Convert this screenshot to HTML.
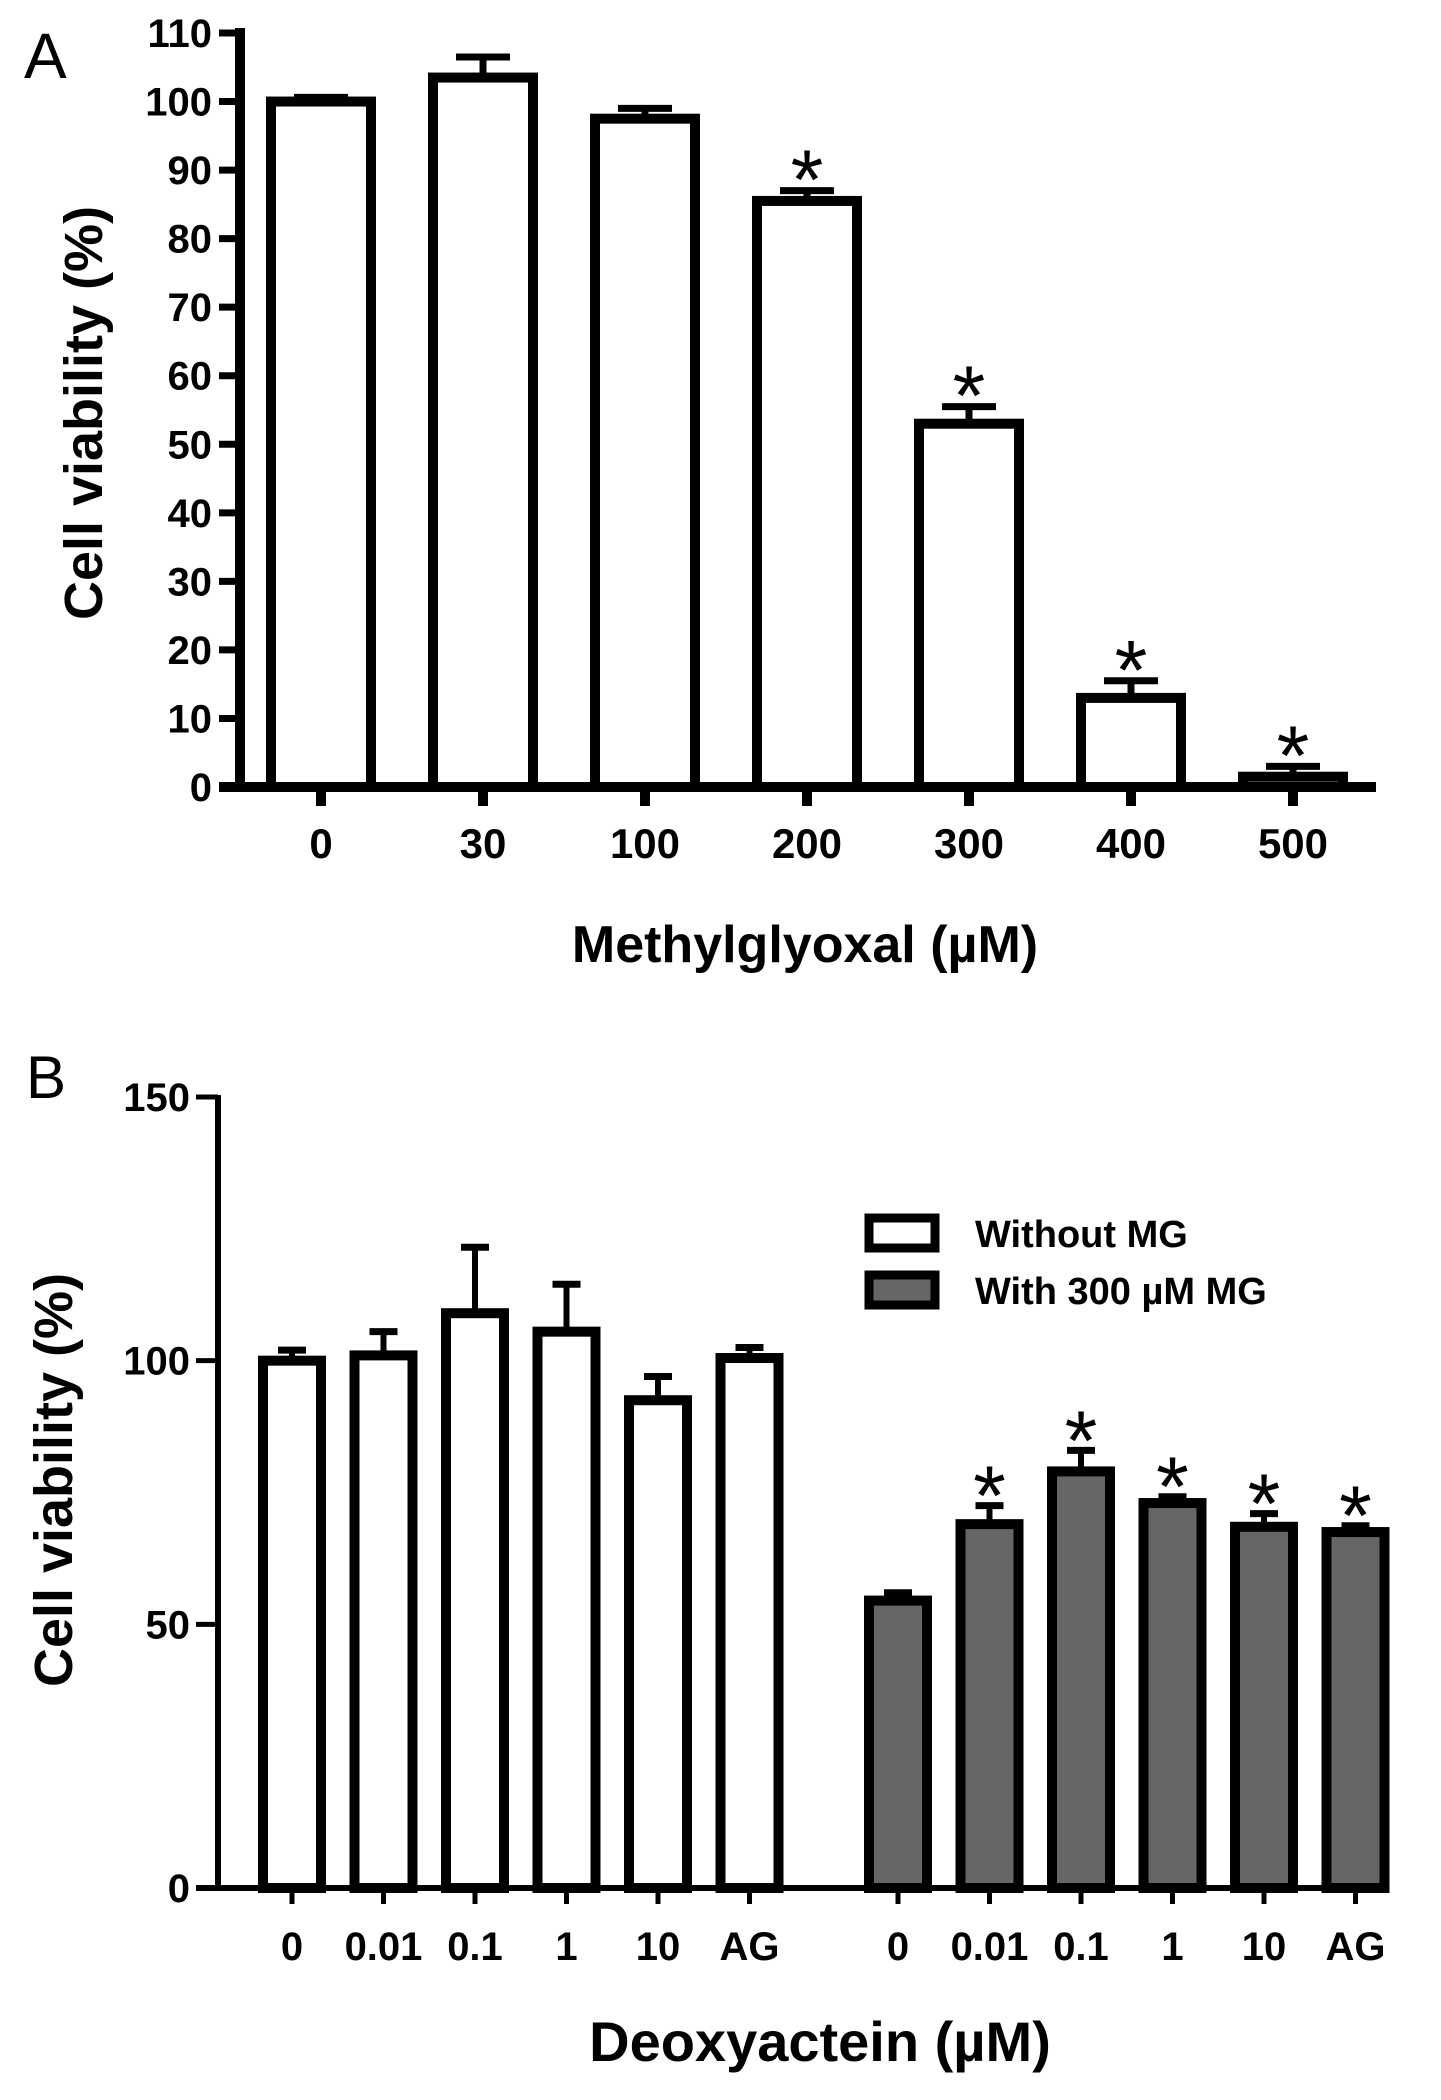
<!DOCTYPE html>
<html><head><meta charset="utf-8"><style>
html,body{margin:0;padding:0;background:#fff;width:1441px;height:2100px;overflow:hidden}
svg text{font-family:"Liberation Sans",Arial,sans-serif;font-weight:bold;fill:#000}
.nar{font-family:"Liberation Sans Narrow","Liberation Sans",sans-serif}
</style></head><body>
<svg id="fig" width="1441" height="2100" viewBox="0 0 1441 2100" xmlns="http://www.w3.org/2000/svg">
<text x="24" y="78" font-size="64" style="font-weight:normal">A</text>
<text x="26" y="1098" font-size="60" style="font-weight:normal">B</text>
<g id="pa"></g>
<g id="pb"></g>
</svg>
<script>
const aCats=["0","30","100","200","300","400","500"];
const aVals=[100,103.5,97.5,85.5,53,13,1.5];
const aErr=[0.6,3,1.5,1.5,2.5,2.5,1.5];
const aSig=[false,false,false,true,true,true,true];
const aTicks=[0,10,20,30,40,50,60,70,80,90,100,110];

const bCats=["0","0.01","0.1","1","10","AG"];
const bWithout=[100,101,109,105.5,92.5,100.5];
const bWithoutErr=[2,4.5,12.5,9,4.5,2];
const bWith=[54.5,69,79,73,68.5,67.5];
const bWithErr=[1.5,3.5,4,1.2,2.5,1.2];
const bWithSig=[false,true,true,true,true,true];
const bTicks=[0,50,100,150];

const NS="http://www.w3.org/2000/svg";
function mk(p,tag,at,name){const e=document.createElementNS(NS,tag);for(const k in at)e.setAttribute(k,at[k]);


p.appendChild(e);return e;}

// Panel A
const A=document.getElementById('pa');
const ay=v=>787-v*(754/110);
const ax=i=>321+i*162;
const bwA=110, swA=10;
aVals.forEach((v,i)=>{
  const x=ax(i);
  mk(A,'line',{x1:x,x2:x,y1:ay(v),y2:ay(v+aErr[i]),stroke:'#000','stroke-width':7},'error-bar-'+aCats[i]);
  mk(A,'line',{x1:x-27,x2:x+27,y1:ay(v+aErr[i]),y2:ay(v+aErr[i]),stroke:'#000','stroke-width':7},'error-cap-'+aCats[i]);
  mk(A,'rect',{x:x-bwA/2+swA/2,y:ay(v),width:bwA-swA,height:Math.max(787-ay(v),0.1),fill:'#fff',stroke:'#000','stroke-width':swA},'bar-'+aCats[i]);
  if(aSig[i]){const t=mk(A,'text',{x:x,y:ay(v+aErr[i])+18,'text-anchor':'middle','font-size':84,style:'font-weight:normal'},'significance-'+aCats[i]);t.textContent='*';}
  mk(A,'line',{x1:x,x2:x,y1:787,y2:806,stroke:'#000','stroke-width':10},'x-tick-'+aCats[i]);
  const t=mk(A,'text',{x:x,y:858,'text-anchor':'middle','font-size':42},'x-tick-label-'+aCats[i]);t.textContent=aCats[i];
});
mk(A,'line',{x1:240,x2:240,y1:28,y2:792,stroke:'#000','stroke-width':10},'y-axis');
mk(A,'line',{x1:219,x2:1376,y1:787,y2:787,stroke:'#000','stroke-width':10},'x-axis');
aTicks.forEach(v=>{
  mk(A,'line',{x1:219,x2:240,y1:ay(v),y2:ay(v),stroke:'#000','stroke-width':7},'y-tick-'+v);
  const t=mk(A,'text',{x:212,y:ay(v)+14,'text-anchor':'end','font-size':40},'y-tick-label-'+v);t.textContent=v;
});
{const t=mk(A,'text',{x:805,y:962,'text-anchor':'middle','font-size':52},'x-axis-title');t.textContent='Methylglyoxal  (µM)';}
{const t=mk(A,'text',{x:0,y:0,'text-anchor':'middle','font-size':54,transform:'translate(102,413) rotate(-90)'},'y-axis-title');t.textContent='Cell viability (%)';}

// Panel B
const B=document.getElementById('pb');
const by=v=>1888-v*(791/150);
const bx=(g,i)=>(g?898:292)+i*91.5;
const bwB=68, swB=10;
function barB(g,i,v,e,sig){
  const x=bx(g,i), n=(g?'with-mg-':'without-mg-')+bCats[i];
  mk(B,'line',{x1:x,x2:x,y1:by(v),y2:by(v+e),stroke:'#000','stroke-width':6},'error-bar-'+n);
  mk(B,'line',{x1:x-14,x2:x+14,y1:by(v+e),y2:by(v+e),stroke:'#000','stroke-width':7},'error-cap-'+n);
  mk(B,'rect',{x:x-bwB/2+swB/2,y:by(v),width:bwB-swB,height:1888-by(v),fill:g?'#666':'#fff',stroke:'#000','stroke-width':swB},'bar-'+n);
  if(sig){const t=mk(B,'text',{x:x,y:by(v+e)+19,'text-anchor':'middle','font-size':84,style:'font-weight:normal'},'significance-'+n);t.textContent='*';}
  mk(B,'line',{x1:x,x2:x,y1:1888,y2:1904,stroke:'#000','stroke-width':5},'x-tick-'+n);
  const t=mk(B,'text',{x:x,y:1960,'text-anchor':'middle','font-size':40,'class':'nar'},'x-tick-label-'+n);t.textContent=bCats[i];
}
bWithout.forEach((v,i)=>barB(0,i,v,bWithoutErr[i],false));
bWith.forEach((v,i)=>barB(1,i,v,bWithErr[i],bWithSig[i]));
mk(B,'line',{x1:218,x2:218,y1:1095,y2:1891,stroke:'#000','stroke-width':6},'y-axis');
mk(B,'line',{x1:196,x2:1388,y1:1888,y2:1888,stroke:'#000','stroke-width':6},'x-axis');
bTicks.forEach(v=>{
  mk(B,'line',{x1:196,x2:218,y1:by(v),y2:by(v),stroke:'#000','stroke-width':5},'y-tick-'+v);
  const t=mk(B,'text',{x:190,y:by(v)+14,'text-anchor':'end','font-size':40,'class':'nar'},'y-tick-label-'+v);t.textContent=v;
});
mk(B,'rect',{x:869,y:1218,width:66,height:30,fill:'#fff',stroke:'#000','stroke-width':9},'legend-swatch-without-mg');
mk(B,'rect',{x:869,y:1275,width:66,height:30,fill:'#666',stroke:'#000','stroke-width':9},'legend-swatch-with-mg');
{const t=mk(B,'text',{x:975,y:1247,'font-size':38},'legend-label-without-mg');t.textContent='Without MG';}
{const t=mk(B,'text',{x:975,y:1304,'font-size':38},'legend-label-with-mg');t.textContent='With 300 µM MG';}
{const t=mk(B,'text',{x:820,y:2061,'text-anchor':'middle','font-size':56,'class':'nar'},'x-axis-title');t.textContent='Deoxyactein (µM)';}
{const t=mk(B,'text',{x:0,y:0,'text-anchor':'middle','font-size':54,transform:'translate(72,1480) rotate(-90)'},'y-axis-title');t.textContent='Cell viability (%)';}
</script>
</body></html>
